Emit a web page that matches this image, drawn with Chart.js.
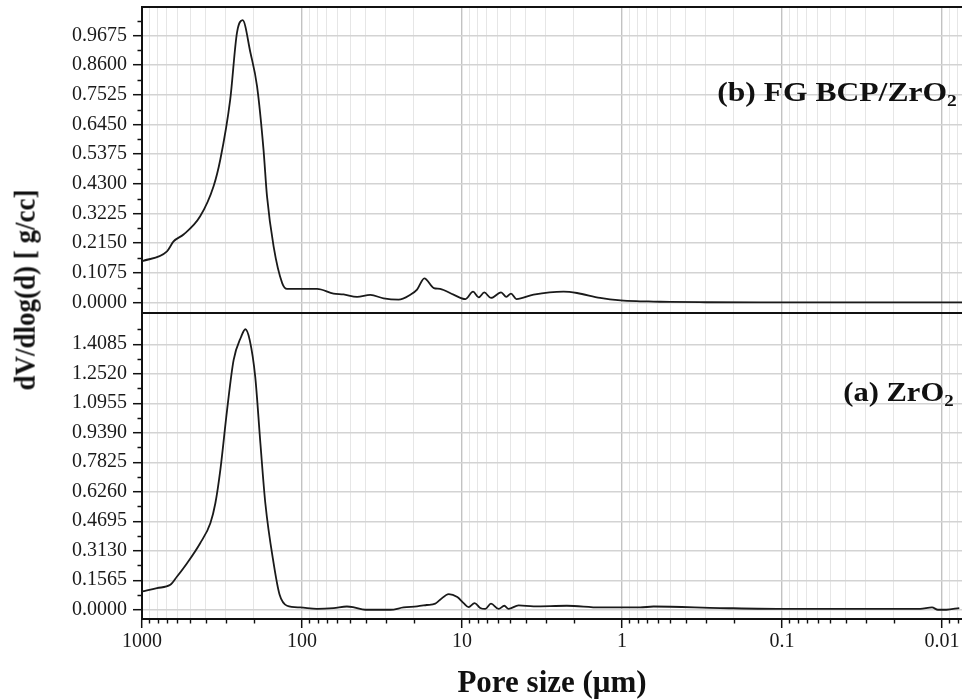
<!DOCTYPE html>
<html><head><meta charset="utf-8">
<script src="https://cdn.jsdelivr.net/npm/chart.js@4.4.0/dist/chart.umd.min.js"></script>
<style>
html,body{margin:0;padding:0;background:#fff;overflow:hidden;}
#wrap{position:relative;width:962px;height:699px;}
#c{position:absolute;left:0;top:0;width:962px;height:699px;}
.ann{position:absolute;font-family:"Liberation Serif","Times New Roman",serif;font-weight:bold;color:#111;white-space:nowrap;line-height:1;}
.sub{font-size:0.62em;position:relative;top:0.3em;line-height:1;}
#ytitle{font-size:27px;left:25px;top:290px;transform:translate(-50%,-50%) rotate(-90deg) scaleY(1.12);}
#annB{font-size:27px;right:5px;top:79px;transform:scaleX(1.17);transform-origin:right center;}
#annA{font-size:27px;right:8px;top:379px;transform:scaleX(1.13);transform-origin:right center;}
</style></head><body>
<div id="wrap">
<canvas id="c" width="962" height="699"></canvas>
<div class="ann" id="ytitle">dV/dlog(d) [ g/cc]</div>
<div class="ann" id="annB">(b) FG BCP/ZrO<span class="sub">2</span></div>
<div class="ann" id="annA">(a) ZrO<span class="sub">2</span></div>
</div>
<script>
// ---- data (pore size in µm, dV/dlog(d) in g/cc) ----
const poreB = [1000, 698, 635, 550, 433, 357, 324, 281, 255, 235, 210, 191, 174, 165.5, 150.5, 133, 124, 100, 80.5, 63.5, 55, 45.3, 37.4, 30.9, 24.9, 21, 19.1, 17.2, 15.0, 13.7, 11.3, 9.5, 8.53, 7.87, 7.26, 6.59, 5.70, 5.28, 4.94, 4.57, 3.57, 2.32, 1.91, 1.37, 1.02, 0.77, 0.635, 0.5, 0.3, 0.1, 0.03, 0.0075];
const dvB = [0.149, 0.185, 0.221, 0.246, 0.312, 0.421, 0.518, 0.735, 0.977, 1.023, 0.905, 0.784, 0.554, 0.385, 0.203, 0.070, 0.049, 0.049, 0.049, 0.032, 0.029, 0.020, 0.027, 0.0145, 0.010, 0.028, 0.046, 0.087, 0.052, 0.049, 0.028, 0.012, 0.039, 0.018, 0.036, 0.016, 0.036, 0.020, 0.032, 0.012, 0.028, 0.039, 0.034, 0.016, 0.007, 0.004, 0.003, 0.0015, 0.0005, 0, 0, 0];

const poreA = [1000, 806, 665, 604, 523, 433, 374, 348, 324, 294, 267.6, 240.4, 226, 212, 196, 182, 169.5, 150.5, 138, 124, 102.6, 80.5, 63.5, 52.4, 48, 40.2, 28, 23.2, 19.1, 16.6, 14.7, 13.7, 12.1, 10.7, 9.77, 9.1, 8.34, 7.69, 7.15, 6.59, 5.9, 5.44, 5.12, 4.43, 3.57, 2.21, 1.37, 0.77, 0.635, 0.243, 0.093, 0.036, 0.0137, 0.01155, 0.0106, 0.0094, 0.0078];
const dvA = [0.097, 0.115, 0.132, 0.176, 0.247, 0.353, 0.459, 0.565, 0.741, 1.059, 1.324, 1.447, 1.488, 1.429, 1.235, 0.883, 0.565, 0.247, 0.079, 0.021, 0.012, 0.005, 0.009, 0.017, 0.014, 0.0, 0.0, 0.012, 0.018, 0.025, 0.032, 0.053, 0.083, 0.067, 0.035, 0.014, 0.035, 0.009, 0.004, 0.032, 0.004, 0.021, 0.005, 0.023, 0.018, 0.021, 0.012, 0.012, 0.017, 0.009, 0.004, 0.004, 0.005, 0.012, 0.0, 0.0, 0.009];

// ---- ticks ----
const xDecades = [1000, 100, 10, 1, 0.1, 0.01];
const xTickLabels = ['1000', '100', '10', '1', '0.1', '0.01'];
const topTicks = [0.0000, 0.1075, 0.2150, 0.3225, 0.4300, 0.5375, 0.6450, 0.7525, 0.8600, 0.9675];
const bottomTicks = [0.0000, 0.1565, 0.3130, 0.4695, 0.6260, 0.7825, 0.9390, 1.0955, 1.2520, 1.4085];

const X_MIN = 0.0075, X_MAX = 1000;
const xGrid = [];
[1000, 100, 10, 1, 0.1, 0.01, 0.001].forEach(d => {
  for (let k = 1; k <= 9; k++) {
    const v = +(d * k).toPrecision(6);
    if (v >= X_MIN && v <= X_MAX) xGrid.push(v);
  }
});
const decadeIndex = v => xDecades.findIndex(d => Math.abs(v / d - 1) < 1e-6);
const isDecade = v => decadeIndex(v) >= 0;

const FONT = '"Liberation Serif", "Times New Roman", serif';

const noPad = s => { s.paddingTop = 0; s.paddingBottom = 0; s.paddingLeft = 0; s.paddingRight = 0; };

const frame = {
  id: 'frame',
  afterDraw(chart) {
    const {ctx, chartArea: a, scales} = chart;
    ctx.save();
    ctx.strokeStyle = '#111';
    ctx.lineWidth = 2;
    ctx.beginPath();
    ctx.moveTo(a.left - 1, a.top); ctx.lineTo(a.right, a.top);
    const sep = Math.min(scales.yA.bottom, scales.yB.bottom);
    ctx.moveTo(a.left - 1, sep); ctx.lineTo(a.right, sep);
    ctx.stroke();
    // minor tick marks
    ctx.lineWidth = 1.4;
    ctx.beginPath();
    const x = scales.x;
    xGrid.filter(v => !isDecade(v)).forEach(v => {
      const px = Math.round(x.getPixelForValue(v)) + 0.5;
      ctx.moveTo(px, x.top); ctx.lineTo(px, x.top + 4.5);
    });
    [[scales.yB, topTicks], [scales.yA, bottomTicks]].forEach(([s, t]) => {
      const half = (t[1] - t[0]) / 2;
      t.forEach(v => {
        const m = v + half;
        if (m > s.min && m < s.max) {
          const py = Math.round(s.getPixelForValue(m)) + 0.5;
          ctx.moveTo(s.right - 4.5, py); ctx.lineTo(s.right, py);
        }
      });
    });
    ctx.stroke();
    ctx.restore();
  }
};

function yAxis(ticks, min, max) {
  return {
    type: 'linear', position: 'left', stack: 'panels', stackWeight: 1,
    min, max,
    afterFit: s => { s.width = 142; noPad(s); },
    afterBuildTicks: s => { s.ticks = ticks.map(v => ({value: v})); },
    grid: {color: '#d3d3d3', lineWidth: 1.4, tickLength: 9, tickColor: '#111', tickWidth: 1.5},
    border: {display: true, color: '#111', width: 2},
    ticks: {
      autoSkip: false, padding: 6, color: '#1a1a1a',
      font: {family: FONT, size: 20},
      callback: v => Number(v).toFixed(4)
    }
  };
}

new Chart(document.getElementById('c'), {
  type: 'line',
  data: {
    datasets: [
      {
        label: '(b) FG BCP/ZrO2', yAxisID: 'yB',
        data: poreB.map((p, i) => ({x: p, y: dvB[i]})),
        borderColor: '#1a1a1a', borderWidth: 1.8, pointRadius: 0,
        cubicInterpolationMode: 'monotone', fill: false
      },
      {
        label: '(a) ZrO2', yAxisID: 'yA',
        data: poreA.map((p, i) => ({x: p, y: dvA[i]})),
        borderColor: '#1a1a1a', borderWidth: 1.8, pointRadius: 0,
        cubicInterpolationMode: 'monotone', fill: false
      }
    ]
  },
  options: {
    responsive: false, animation: false, devicePixelRatio: 1,
    layout: {padding: {top: 7, left: 0, right: 0, bottom: 0}, autoPadding: false},
    plugins: {legend: {display: false}, tooltip: {enabled: false}},
    scales: {
      x: {
        type: 'logarithmic', reverse: true, min: X_MIN, max: X_MAX, position: 'bottom',
        afterFit: s => { s.height = 80; noPad(s); },
        afterBuildTicks: s => { s.ticks = xGrid.map(v => ({value: v})); },
        grid: {
          color: c => isDecade(c.tick.value) ? '#c2c2c2' : '#e6e6e6',
          lineWidth: c => isDecade(c.tick.value) ? 1.4 : 1,
          tickLength: 9, tickWidth: 1.5,
          tickColor: c => isDecade(c.tick.value) ? '#111' : 'rgba(0,0,0,0)'
        },
        border: {display: true, color: '#111', width: 2},
        ticks: {
          autoSkip: false, maxRotation: 0, padding: 2, color: '#1a1a1a',
          font: {family: FONT, size: 20},
          callback: v => { const i = decadeIndex(v); return i >= 0 ? xTickLabels[i] : ''; }
        },
        title: {
          display: true, text: 'Pore size (μm)', color: '#111',
          font: {family: FONT, size: 31, weight: 'bold', lineHeight: 1},
          padding: {top: 0, bottom: 0}
        }
      },
      yA: yAxis(bottomTicks, -0.0492, 1.5742),
      yB: yAxis(topTicks, -0.0385, 1.0709)
    }
  },
  plugins: [frame]
});
</script>
</body></html>
